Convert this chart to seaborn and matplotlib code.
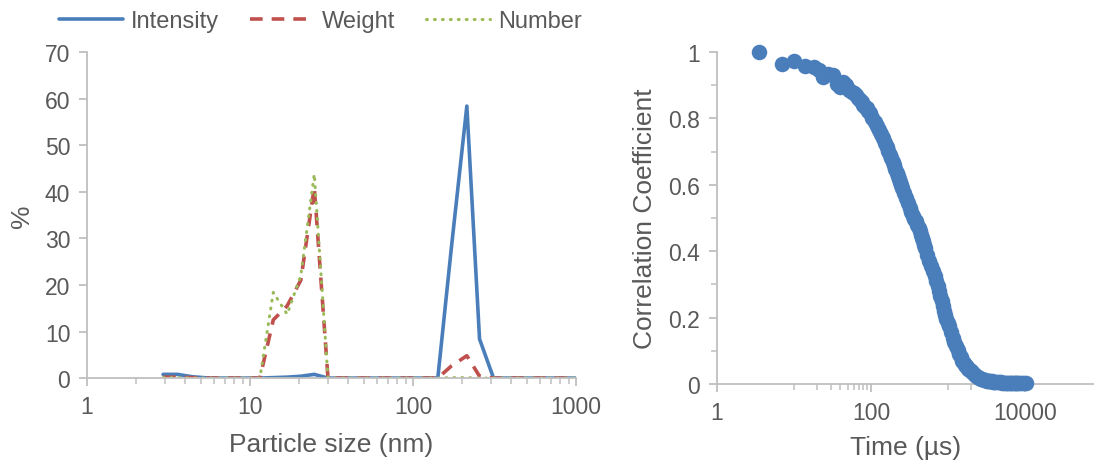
import numpy as np
import pandas as pd
import matplotlib
matplotlib.use("Agg")
import matplotlib.pyplot as plt
import seaborn as sns
from matplotlib.ticker import FixedLocator, NullFormatter

sns.set_style("white")
plt.rcParams["font.family"] = ["Liberation Sans", "DejaVu Sans"]

# size distribution (nm, %)
size_nm = [2.93, 3.6, 4.4, 5.4, 6.5, 7.9, 9.5, 11.5, 13.9, 16.9, 20.5, 24.8, 30.1,
           36.5, 44, 53, 64, 78, 95, 116, 142, 172, 214, 256, 312, 380, 460, 560,
           680, 825, 1000]
intensity = [0.8, 0.8, 0.3, 0.05, 0, 0, 0, 0, 0.1, 0.2, 0.4, 0.8, 0,
             0, 0, 0, 0, 0, 0, 0, 0, 28, 58.4, 8.4, 0, 0, 0, 0,
             0, 0, 0]
weight = [0.2, 0.2, 0.1, 0, 0, 0, 0, 0, 12.5, 15.5, 21, 41, 0,
          0, 0, 0, 0, 0, 0, 0, 0, 2.6, 4.8, 0.4, 0, 0, 0, 0,
          0, 0, 0]
number = [0.1, 0.1, 0, 0, 0, 0, 0, 0, 18.4, 13.7, 22, 43.8, 0,
          0, 0, 0, 0, 0, 0, 0, 0, 0.1, 0.1, 0, 0, 0, 0, 0,
          0, 0, 0]

# correlation function (us, coefficient)
time_us = [3.5, 7, 10, 14, 18, 21, 24, 28, 32, 36, 40, 44, 48, 52, 56, 60, 64,
           68, 72, 76, 80, 84, 88, 92, 96, 104, 112, 120,
           128, 136, 144, 152, 160, 168, 176, 184, 192, 200, 208, 216, 224, 232,
           240, 248, 256,
           272, 288, 304, 320, 336, 352, 368, 384, 400, 416, 432, 448, 464, 480,
           496, 512,
           544, 576, 608, 640, 672, 704, 736, 768, 800, 832, 864, 896, 928, 960,
           992, 1024,
           1088, 1152, 1216, 1280, 1344, 1408, 1472, 1536, 1600, 1664, 1728, 1792,
           1856, 1920, 1984, 2048,
           2176, 2304, 2432, 2560, 2688, 2816, 2944, 3072, 3200, 3328, 3456, 3584,
           3712, 3840, 3968, 4096,
           4352, 4608, 4864, 5120, 5376, 5632, 5888, 6144, 6400, 6656, 6912, 7168,
           7424, 7680, 7936, 8192,
           8704, 9216, 9728, 10240]
corr = [1.0, 0.965, 0.973, 0.958, 0.955, 0.945, 0.925, 0.935, 0.93, 0.905, 0.895,
        0.91, 0.90, 0.885, 0.88, 0.875, 0.87, 0.862, 0.855, 0.848, 0.84, 0.835,
        0.83, 0.822, 0.815, 0.80, 0.79, 0.777,
        0.765, 0.752, 0.74, 0.727, 0.715, 0.702, 0.69, 0.68, 0.67, 0.66, 0.648,
        0.637, 0.625, 0.616, 0.607, 0.598, 0.59,
        0.575, 0.56, 0.545, 0.53, 0.517, 0.505, 0.497, 0.49, 0.48, 0.47, 0.46,
        0.45, 0.44, 0.43, 0.42, 0.41,
        0.39, 0.37, 0.355, 0.34, 0.325, 0.31, 0.295, 0.28, 0.265, 0.25, 0.235,
        0.22, 0.208, 0.196, 0.185, 0.175,
        0.157, 0.14, 0.127, 0.115, 0.102, 0.09, 0.08, 0.07, 0.064, 0.058, 0.053,
        0.05, 0.046, 0.042, 0.038, 0.035,
        0.03, 0.025, 0.021, 0.018, 0.016, 0.014, 0.012, 0.011, 0.01, 0.0095,
        0.0088, 0.008, 0.0075, 0.007, 0.0065, 0.006,
        0.0057, 0.005, 0.0047, 0.0044, 0.0042, 0.004, 0.0038, 0.0035, 0.0034,
        0.0033, 0.0032, 0.003, 0.003, 0.003, 0.003, 0.003,
        0.003, 0.003, 0.003, 0.003]

blue = "#4a7ebb"
red = "#c0504d"
green = "#9bbb59"
grey_txt = "#595959"
grey_ax = "#bfbfbf"

fig = plt.figure(figsize=(10.94, 4.64), dpi=100)
ax1 = fig.add_axes([0.0795, 0.183, 0.447, 0.7026])
ax2 = fig.add_axes([0.6554, 0.1703, 0.3446, 0.7155])

dist = pd.DataFrame({"size": size_nm, "Intensity": intensity,
                     "Weight": weight, "Number": number})

sns.lineplot(data=dist, x="size", y="Intensity", ax=ax1, color=blue, lw=2.6,
             label="Intensity")
sns.lineplot(data=dist, x="size", y="Weight", ax=ax1, color=red, lw=2.6,
             dashes=(3.5, 2.5), label="Weight")
sns.lineplot(data=dist, x="size", y="Number", ax=ax1, color=green, lw=2.2,
             dashes=(0.3, 2.3), dash_capstyle="round", label="Number")
ax1.get_legend().remove()

ax1.set_xscale("log")
ax1.set_xlim(1, 1000)
ax1.set_ylim(0, 70)
ax1.set_yticks(range(0, 71, 10))
ax1.set_xticks([1, 10, 100, 1000])
ax1.set_xticklabels(["1", "10", "100", "1000"])
ax1.xaxis.set_minor_locator(FixedLocator(
    [m * d for d in (1, 10, 100) for m in range(2, 10)]))
ax1.xaxis.set_minor_formatter(NullFormatter())
ax1.set_xlabel("Particle size (nm)", fontsize=19, color=grey_txt, labelpad=10)
ax1.set_ylabel("%", fontsize=19, color=grey_txt, labelpad=8)

tdf = pd.DataFrame({"time": time_us, "corr": corr})
sns.scatterplot(data=tdf, x="time", y="corr", ax=ax2, color=blue, s=125,
                edgecolor=blue, linewidth=0, alpha=1, clip_on=False, zorder=3)
ax2.set_xscale("log")
ax2.set_xlim(1, 10 ** 4.9)
ax2.set_ylim(0, 1)
ax2.set_yticks([0, 0.2, 0.4, 0.6, 0.8, 1.0])
ax2.set_yticklabels(["0", "0.2", "0.4", "0.6", "0.8", "1"])
ax2.yaxis.set_minor_locator(FixedLocator([0.1, 0.3, 0.5, 0.7, 0.9]))
ax2.set_xticks([1, 100, 10000])
ax2.set_xticklabels(["1", "100", "10000"])
ax2.xaxis.set_minor_locator(FixedLocator(
    [10, 20, 30, 40, 50, 60, 70, 80, 90, 1000, 2000]))
ax2.xaxis.set_minor_formatter(NullFormatter())
ax2.set_xlabel("Time (\u00b5s)", fontsize=19, color=grey_txt, labelpad=8)
ax2.set_ylabel("Correlation Coefficient", fontsize=19, color=grey_txt, labelpad=8)

for ax in (ax1, ax2):
    for side in ("top", "right"):
        ax.spines[side].set_visible(False)
    for side in ("left", "bottom"):
        ax.spines[side].set_color(grey_ax)
        ax.spines[side].set_linewidth(1.3)
    ax.tick_params(which="major", direction="out", length=6, width=1.3,
                   color=grey_ax, labelsize=16.5, labelcolor=grey_txt, pad=6)
    ax.tick_params(which="minor", direction="out", length=4, width=1.1,
                   color=grey_ax)
    ax.tick_params(axis="x", which="both", bottom=True)
    ax.tick_params(axis="y", which="both", left=True)
    ax.set_facecolor("white")

handles, labels = ax1.get_legend_handles_labels()
fig.legend(handles, labels, loc="center", bbox_to_anchor=(0.293, 0.952), ncol=3,
           frameon=False, fontsize=17, handlelength=2.7, columnspacing=1.3,
           handletextpad=0.35, labelcolor=grey_txt)

fig.savefig("out.png", dpi=100, facecolor="white")
